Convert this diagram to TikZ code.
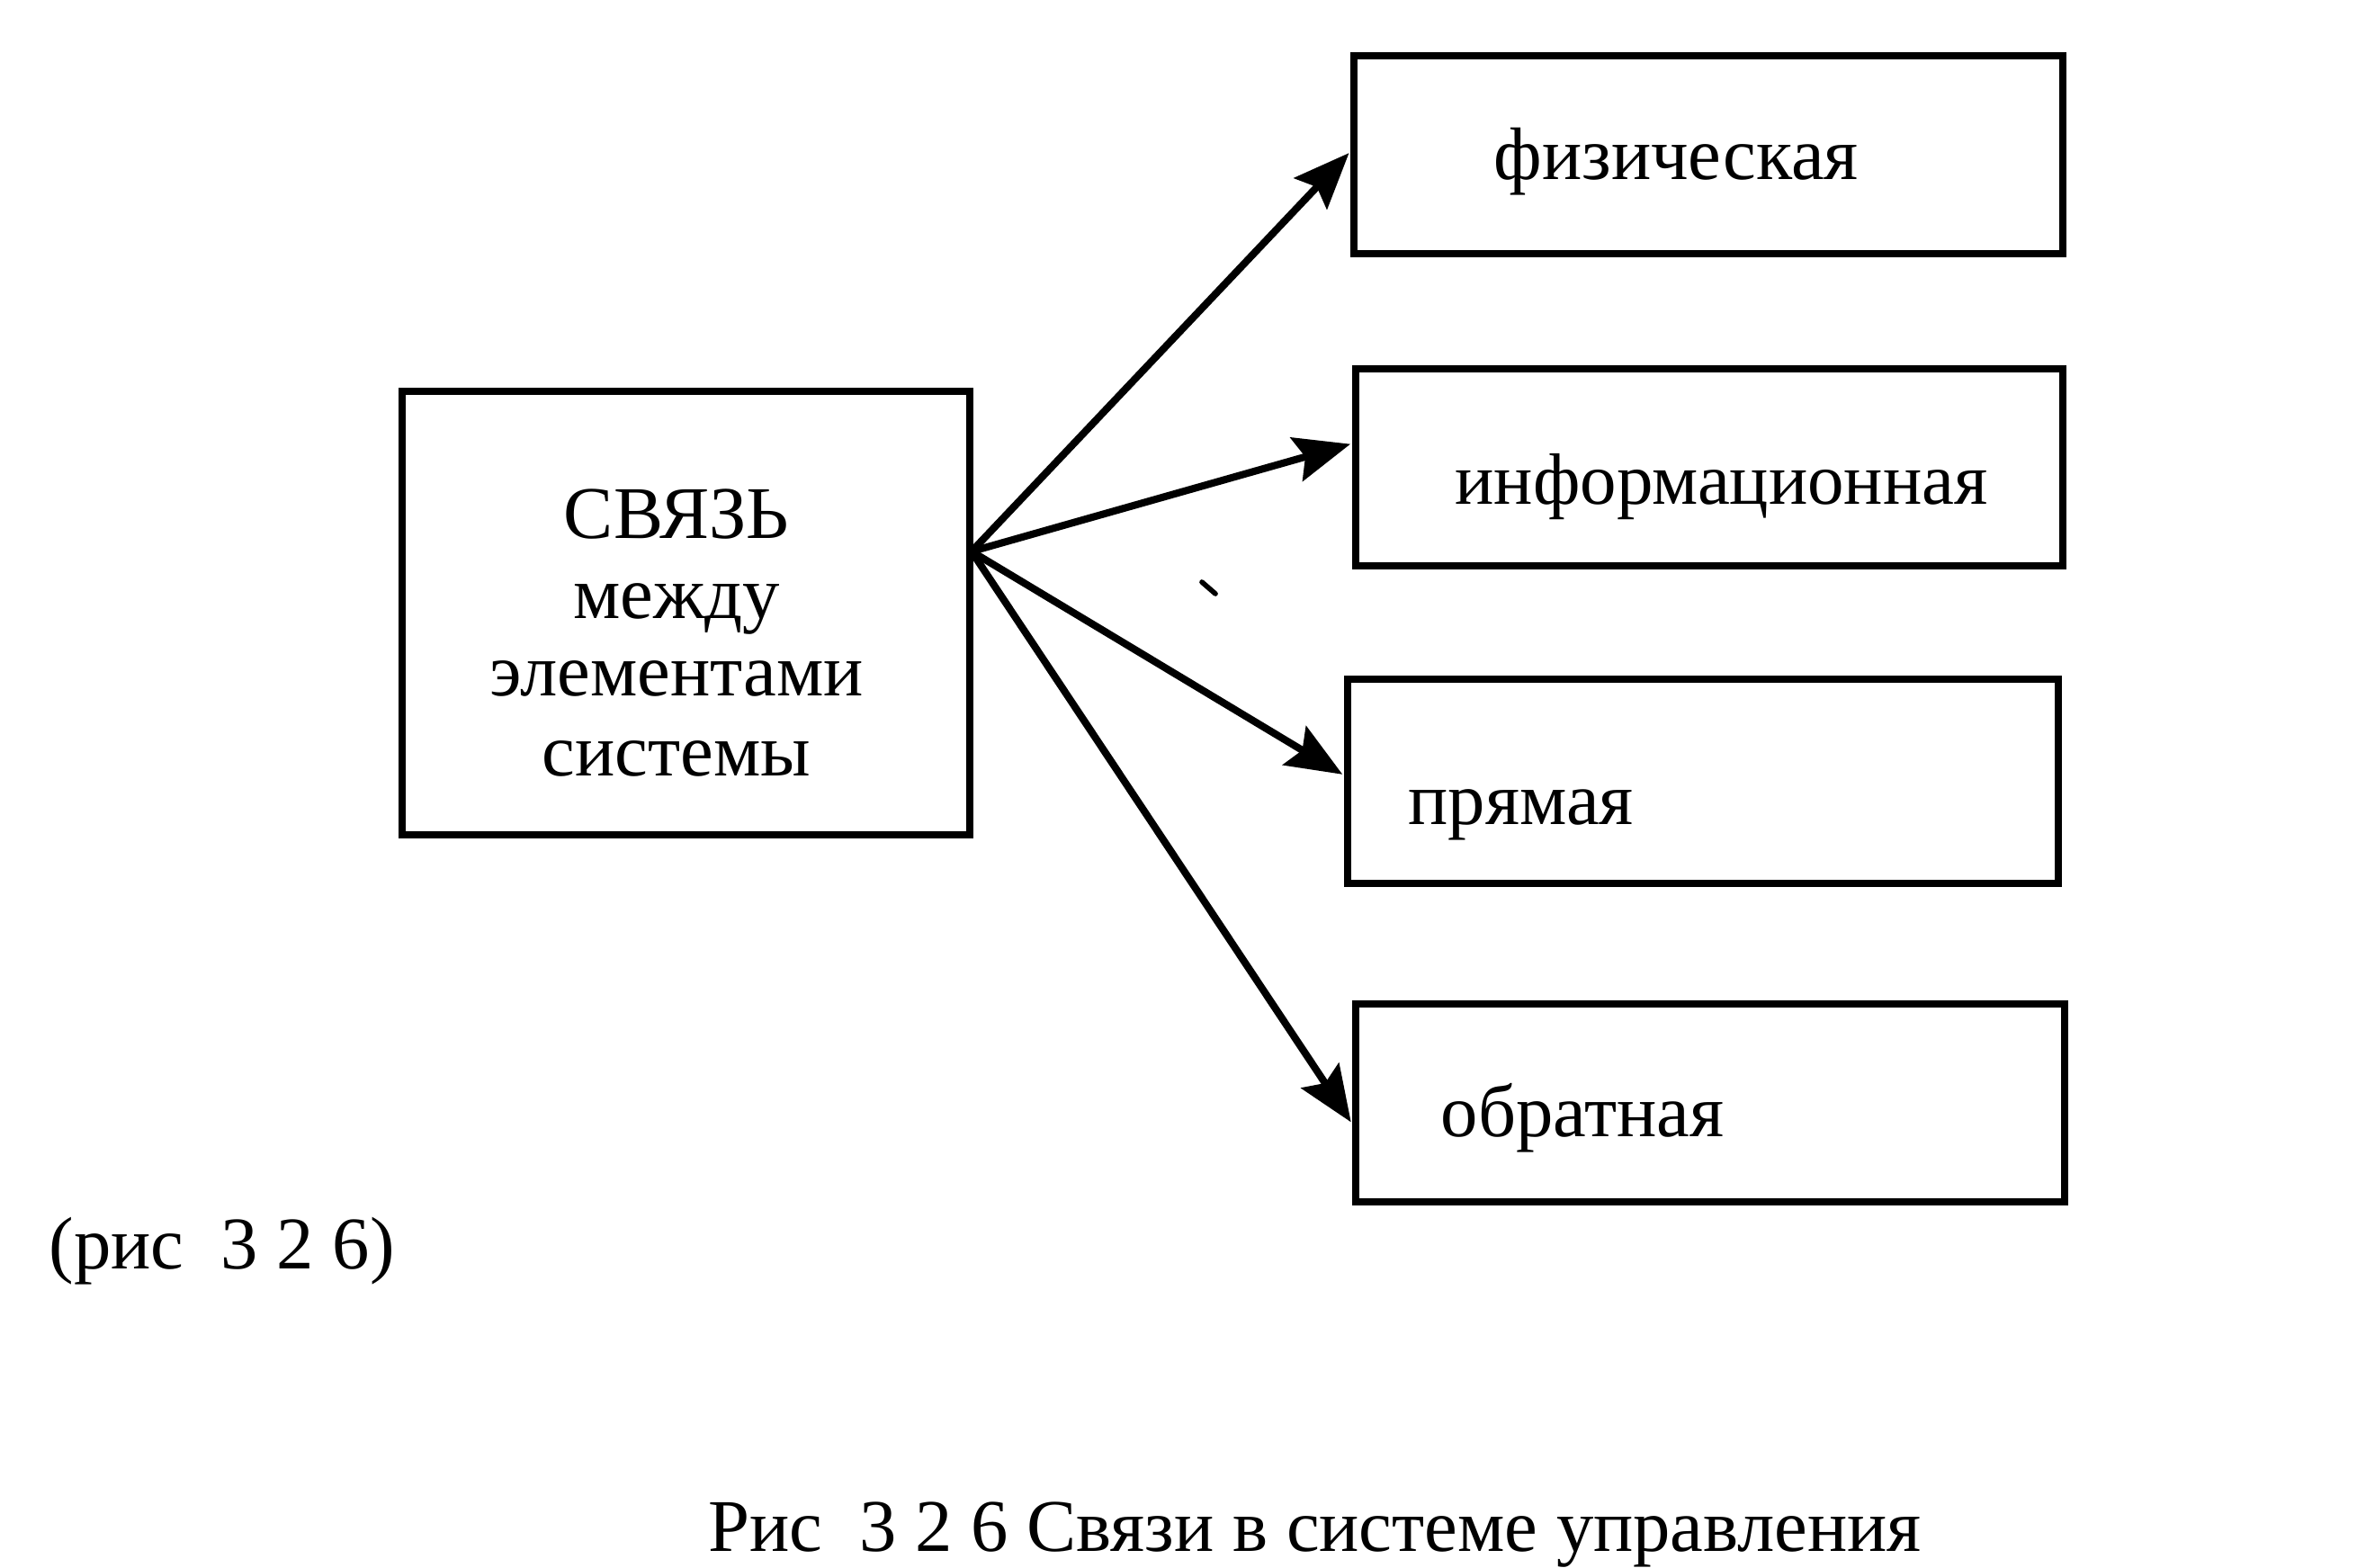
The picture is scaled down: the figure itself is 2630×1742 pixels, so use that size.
\documentclass[tikz,border=0pt]{standalone}
\usepackage{fontspec}
\setmainfont{Liberation Serif}
\usetikzlibrary{arrows.meta,calc}
\begin{document}
\begin{tikzpicture}[x=0.01cm,y=-0.01cm,
  box/.style={draw,line width=2.3pt,inner sep=0pt,rectangle},
  lbl/.style={inner sep=0pt,anchor=base west,font=\fontsize{23.5}{28}\selectfont},
  ctr/.style={inner sep=0pt,anchor=base,font=\fontsize{23.5}{28}\selectfont},
  conn/.style={line width=2.3pt,-{Stealth[length=0.62cm,width=0.5cm,inset=0.1cm]}}]
\useasboundingbox (0,0) rectangle (2630,1742);
% main box
\node[box,minimum width=6.31cm,minimum height=4.93cm] (main) at (762.5,681.5) {};
\node[ctr] (m1) at (752,598) {СВЯЗЬ};
\node[ctr] (m2) at (752,687) {между};
\node[ctr] (m3) at (752,773) {элементами};
\node[ctr] (m4) at (752,862) {системы};
% right boxes
\node[box,minimum width=7.88cm,minimum height=2.20cm] (b1) at (1899,172) {};
\node[box,minimum width=7.86cm,minimum height=2.19cm] (b2) at (1900,519.5) {};
\node[box,minimum width=7.90cm,minimum height=2.27cm] (b3) at (1893,868.5) {};
\node[box,minimum width=7.88cm,minimum height=2.20cm] (b4) at (1901,1226) {};
\node[lbl] (t1) at (1660,199) {физическая};
\node[lbl,font=\fontsize{23}{28}\selectfont] (t2) at (1617,560) {информационная};
\node[lbl] (t3) at (1565,916) {прямая};
\node[lbl] (t4) at (1601,1263) {обратная};
% connectors
\coordinate (o) at (1080,613);
\coordinate (e1) at ($(b1.north west)!0.486!(b1.south west)$);
\coordinate (e2) at ($(b2.north west)!0.384!(b2.south west)$);
\coordinate (e3) at ($(b3.north west)!0.471!(b3.south west)$);
\coordinate (e4) at ($(b4.north west)!0.6!(b4.south west)$);
\draw[conn,shorten >=0.5pt] (o) -- (e1);
\draw[conn,shorten >=0.5pt] (o) -- (e2);
\draw[conn,shorten >=0.5pt] (o) -- (e3);
\draw[conn,shorten >=0.5pt] (o) -- (e4);
% stray mark
\coordinate (s1) at (1336,647);
\coordinate (s2) at (1351,660);
\draw[line width=1.6pt,line cap=round] (s1) -- (s2);
% captions
\node[lbl] (c1) at (54,1410) {(рис\ \ 3 2 6)};
\node[lbl] (c2) at (787,1724) {Рис\ \ 3 2 6 Связи в системе управления};
\end{tikzpicture}
\end{document}
